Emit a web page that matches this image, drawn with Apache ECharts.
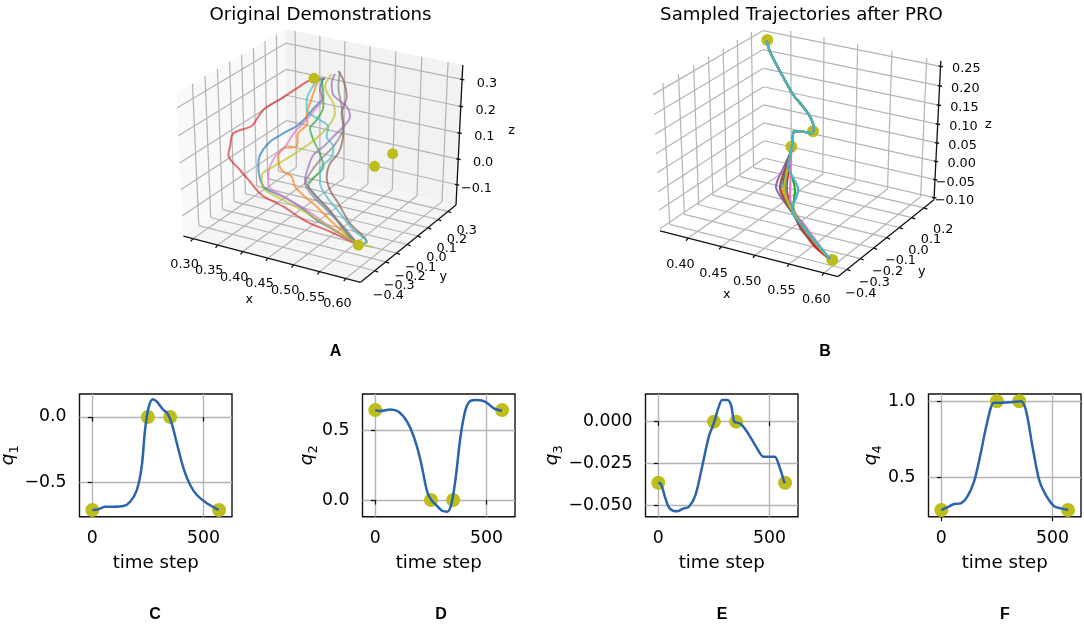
<!DOCTYPE html>
<html><head><meta charset="utf-8">
<style>html,body{margin:0;padding:0;background:#fff}#c{width:1084px;height:627px}</style>
<script src="https://cdn.jsdelivr.net/npm/echarts@6/dist/echarts.min.js"></script>
</head><body><div id="c"></div>
<script>
// ---------- data: joint-space plots ----------
const waypointSteps = [0, 250, 350, 570];
const q1Waypoints = [-0.708, 0, 0, -0.708];
const q2Waypoints = [0.649, 0, 0, 0.649];
const q3Waypoints = [-0.0366, 0, 0, -0.0366];
const q4Waypoints = [0.282, 1, 1, 0.282];

const q1Steps = [0,27,57,95,140,170,200,222,237,252,272,290,320,338,357,380,410,440,470,515,568];
const q1Values = [-.708,-.703,-.683,-.683,-.678,-.645,-.556,-.378,-.099,.066,.135,.117,.053,.028,-.048,-.2,-.391,-.518,-.594,-.657,-.708];
const q2Steps = [0,23,68,105,143,173,203,233,252,278,300,323,341,360,383,405,428,458,495,533,570];
const q2Values = [.649,.642,.654,.637,.565,.457,.288,.06,0,-.043,-.077,-.084,-.036,.144,.457,.649,.716,.721,.709,.661,.644];
const q3Steps = [0,12,32,51,84,114,137,167,197,227,249,272,287,309,327,342,369,399,444,474,523,542,568];
const q3Values = [-.0366,-.0374,-.046,-.052,-.0538,-.052,-.0512,-.044,-.027,-.009,-.001,.009,.013,.013,.01,0,-.0012,-.006,-.016,-.021,-.021,-.026,-.037];
const q4Steps = [0,27,57,87,117,147,177,207,237,267,312,357,380,410,440,470,507,538,570];
const q4Values = [.282,.30,.322,.326,.37,.469,.656,.866,.991,.991,.993,1,.943,.70,.48,.381,.308,.293,.282];

const stepTicks = [0, 500];
const q1Ticks = [-0.5, 0];
const q2Ticks = [0, 0.5];
const q3Ticks = [-0.05, -0.025, 0];
const q4Ticks = [0.5, 1];

// ---------- data: 3D axis ranges and ticks ----------
const xLimA = [0.2806, 0.6278], yLimA = [-0.527, 0.382], zLimA = [-0.18, 0.353];
const xTicksA = [0.30,0.35,0.40,0.45,0.50,0.55,0.60];
const yTicksA = [-0.4,-0.3,-0.2,-0.1,0,0.1,0.2,0.3];
const zTicksA = [-0.1,0,0.1,0.2,0.3];
const xLimB = [0.357, 0.620], yLimB = [-0.465, 0.283], zLimB = [-0.106, 0.264];
const xTicksB = [0.40,0.45,0.50,0.55,0.60];
const yTicksB = [-0.4,-0.3,-0.2,-0.1,0,0.1,0.2];
const zTicksB = [-0.10,-0.05,0,0.05,0.10,0.15,0.20,0.25];

// ---------- data: trajectories as read on the projected view plane (view units) ----------
const demoBlue = [[520,235],[510,270],[518,295],[495,320],[470,350],[445,375],[400,400],[360,425],[330,465],[325,500],[330,535],[345,565],[400,590],[450,620],[500,660],[560,695],[625,735]];
const demoOrange = [[505,240],[490,280],[480,310],[470,345],[472,370],[445,400],[440,440],[400,445],[385,470],[395,510],[425,530],[435,560],[465,590],[500,620],[550,670],[625,735]];
const demoGreen = [[515,240],[520,290],[520,320],[500,360],[480,385],[490,420],[510,460],[520,500],[495,530],[475,555],[500,590],[545,640],[590,700],[625,735]];
const demoRed = [[525,237],[490,238],[440,265],[395,295],[345,325],[325,350],[305,378],[250,400],[240,440],[235,465],[270,510],[300,545],[335,585],[400,620],[470,665],[540,695],[625,735]];
const demoPurple = [[555,222],[545,250],[550,285],[590,320],[600,350],[585,375],[550,410],[520,440],[490,465],[475,500],[465,540],[490,580],[530,620],[570,670],[625,735]];
const demoBrown = [[565,213],[580,240],[590,290],[575,340],[580,380],[578,420],[565,460],[540,490],[530,530],[540,570],[565,610],[600,670],[650,725],[625,735]];
const demoPink = [[510,260],[515,300],[490,335],[460,370],[435,395],[405,440],[375,470],[355,520],[355,555],[400,590],[470,630],[540,680],[625,735]];
const demoGray = [[570,215],[565,260],[575,320],[580,380],[575,400],[550,440],[510,480],[480,520],[465,550],[490,590],[530,630],[580,680],[625,735]];
const demoOlive = [[545,222],[525,260],[550,310],[555,340],[530,385],[480,430],[420,470],[370,500],[335,525],[340,565],[400,600],[480,645],[560,695],[625,730],[670,742]];
const demoCyan = [[525,232],[495,250],[470,305],[470,330],[510,360],[535,380],[530,410],[550,440],[545,470],[510,510],[510,550],[530,590],[570,640],[610,690],[650,725],[625,735]];
const demoWaypoints = [[492,235],[728,461],[674,499],[625,735]];

const proShared = [[410,122],[420,155],[445,205],[470,250],[490,285],[515,315],[540,350],[552,385],[545,400],[520,395],[492,393],[488,420],[484,450]];
const proBlue = [[474,500],[460,550],[470,595],[490,635],[520,685],[560,735],[600,778]];
const proOrange = [[470,500],[452,550],[462,590],[488,635],[518,685],[560,735],[600,778]];
const proGreen = [[480,500],[495,570],[490,620],[500,650],[535,700],[600,778]];
const proRed = [[478,500],[470,560],[482,620],[505,670],[550,735],[600,778]];
const proPurple = [[462,500],[438,560],[470,615],[495,650],[515,690],[555,730],[600,775]];
const proBrown = [[468,500],[450,565],[472,615],[495,650],[515,690],[555,732],[600,776]];
const proPink = [[482,520],[480,590],[495,640],[520,670],[545,705],[600,778]];
const proGray = [[474,500],[468,545],[472,595],[492,635],[525,685],[565,740],[600,778]];
const proOlive = [[472,510],[462,565],[475,610],[495,645],[530,695],[570,745],[600,778]];
const proCyan = [[475,500],[505,570],[485,630],[520,680],[590,765],[600,778]];
const proWaypoints = [[412,120],[549,394],[484,440],[607,780]];

// ---------- styling ----------
const tab10 = ['#1f77b4','#ff7f0e','#2ca02c','#d62728','#9467bd','#8c564b','#e377c2','#7f7f7f','#bcbd22','#3fb6c9'];
const FONT = '"DejaVu Sans"';
const dotColor = '#bdbd1c', curveColor = '#2b63ad', gridColor = '#b4b4b4';
const fmtMinus = s => s.replace('-', '\u2212');

// mplot3d style camera (elev 30, azim -60, dist 10)
function makeProjector(xl, yl, zl, sx, sy, ox, oy) {
  const U=[.8660254,.5,0], V=[-.25,.4330127,.8660254], N=[.4330127,-.75,.5];
  const dot=(a,b)=>a[0]*b[0]+a[1]*b[1]+a[2]*b[2];
  return (x,y,z)=>{
    const q=[(x-xl[0])/(xl[1]-xl[0])-.5,(y-yl[0])/(yl[1]-yl[0])-.5,(z-zl[0])/(zl[1]-zl[0])-.5];
    const f=10/(10-dot(N,q));
    return [ox+sx*dot(U,q)*f, oy-sy*dot(V,q)*f];
  };
}

function panel3D(idx, cfg) {
  const P = cfg.project, [x0,x1]=cfg.xl, [y0,y1]=cfg.yl, [z0,z1]=cfg.zl;
  const series = [];
  const base = {xAxisIndex:idx, yAxisIndex:idx, silent:true, animation:false};
  if (cfg.panes) {
    const polys = [
      [[x0,y0,z0],[x0,y1,z0],[x0,y1,z1],[x0,y0,z1]],
      [[x0,y1,z0],[x1,y1,z0],[x1,y1,z1],[x0,y1,z1]],
      [[x0,y0,z0],[x1,y0,z0],[x1,y1,z0],[x0,y1,z0]]
    ].map(p=>p.map(c=>P(...c)).flat());
    series.push({...base, type:'custom', z:1, data:polys, encode:{x:[0,2,4,6],y:[1,3,5,7]},
      renderItem:(pr,api)=>({type:'polygon',shape:{points:[0,2,4,6].map(i=>api.coord([api.value(i),api.value(i+1)]))},
        style:{fill:cfg.panes[pr.dataIndex]}})});
  }
  const seg=(a,b)=>[...P(...a),...P(...b)];
  const grid=[];
  cfg.xt.forEach(x=>{grid.push(seg([x,y0,z0],[x,y1,z0]),seg([x,y1,z0],[x,y1,z1]));});
  cfg.yt.forEach(y=>{grid.push(seg([x0,y,z0],[x1,y,z0]),seg([x0,y,z0],[x0,y,z1]));});
  cfg.zt.forEach(z=>{grid.push(seg([x0,y0,z],[x0,y1,z]),seg([x0,y1,z],[x1,y1,z]));});
  const lineSeries=(data,color,width,z)=>({...base,type:'custom',z,data,encode:{x:[0,2],y:[1,3]},
    renderItem:(pr,api)=>{const a=api.coord([api.value(0),api.value(1)]),b=api.coord([api.value(2),api.value(3)]);
      return {type:'line',shape:{x1:a[0],y1:a[1],x2:b[0],y2:b[1]},style:{stroke:color,lineWidth:width}};}});
  series.push(lineSeries(grid,gridColor,1.2,2));
  const axes=[seg([x0,y0,z0],[x1,y0,z0]),seg([x1,y0,z0],[x1,y1,z0]),seg([x1,y1,z0],[x1,y1,z1])];
  const tk=[];
  cfg.xt.forEach(x=>{const p=P(x,y0,z0);tk.push([p[0],p[1],p[0]-6,p[1]+8]);});
  cfg.yt.forEach(y=>{const p=P(x1,y,z0);tk.push([p[0],p[1],p[0]+10,p[1]+4]);});
  cfg.zt.forEach(z=>{const p=P(x1,y1,z);tk.push([p[0]-6,p[1]-1,p[0]+7,p[1]+1]);});
  series.push(lineSeries(axes.concat(tk),'#111',1.3,3));
  // tick and axis labels
  const texts=[];
  cfg.xt.forEach(x=>{const p=P(x,y0,z0);texts.push([p[0]+cfg.xOff[0],p[1]+cfg.xOff[1],x.toFixed(2),'center']);});
  cfg.yt.forEach((y,i)=>{const p=P(x1,y,z0);const t=i/(cfg.yt.length-1);
    texts.push([p[0]+cfg.yOff[0],p[1]+cfg.yOff[1]+t*cfg.yOff[2],fmtMinus(y.toFixed(1)),'right']);});
  cfg.zt.forEach(z=>{const p=P(x1,y1,z);texts.push([p[0]+cfg.zOff[0],p[1]+cfg.zOff[1],fmtMinus(z.toFixed(cfg.zDec)),'right']);});
  cfg.names.forEach(n=>texts.push([n[1],n[2],n[0],'center']));
  series.push({...base,type:'custom',z:4,data:texts.map(t=>[t[0],t[1]]),encode:{x:0,y:1},
    renderItem:(pr,api)=>{const a=api.coord([api.value(0),api.value(1)]),t=texts[pr.dataIndex];
      return {type:'text',x:a[0],y:a[1],style:{text:t[2],fontFamily:FONT,fontSize:12.8,fill:'#000',align:t[3],verticalAlign:'middle'}};}});
  // trajectories
  cfg.paths.forEach((d,i)=>series.push({...base,type:'line',z:cfg.pathZ,data:d,smooth:.3,showSymbol:false,
    lineStyle:{color:tab10[i],width:cfg.lw,opacity:cfg.op},clip:false}));
  series.push({...base,type:'scatter',z:cfg.dotZ,data:cfg.dots,symbolSize:cfg.dotSize,itemStyle:{color:dotColor,opacity:1},clip:false});
  return series;
}

const projA = makeProjector(xLimA,yLimA,zLimA,613.6,489.9,515.4,454);
const projB = makeProjector(xLimB,yLimB,zLimB,616.6,486.1,507.4,440);

const series = [
 ...panel3D(0,{project:projA,xl:xLimA,yl:yLimA,zl:zLimA,xt:xTicksA,yt:yTicksA,zt:zTicksA,zDec:1,
   panes:['#f9f9f9','#f2f2f2','#f5f5f5'],
   xOff:[-25,77],yOff:[87,75,-16],zOff:[105,12],
   names:[['x',298,900],['y',880,830],['z',1085,393]],
   paths:[demoBlue,demoOrange,demoGreen,demoRed,demoPurple,demoBrown,demoPink,demoGray,demoOlive,demoCyan],
   lw:2,op:.66,pathZ:5,dotZ:6,dots:demoWaypoints,dotSize:11}),
 ...panel3D(1,{project:projB,xl:xLimB,yl:yLimB,zl:zLimB,xt:xTicksB,yt:yTicksB,zt:zTicksB,zDec:2,
   xOff:[-23,80],yOff:[88,72,-6],zOff:[120,8],
   names:[['x',290,885],['y',875,815],['z',1075,375]],
   paths:[proBlue,proOrange,proGreen,proRed,proPurple,proBrown,proPink,proGray,proOlive,proCyan].map(t=>proShared.concat(t)),
   lw:2.1,op:1,pathZ:6,dotZ:5,dots:proWaypoints,dotSize:12})
];

// ---------- 2D joint plots ----------
const joints = [
 {steps:q1Steps,vals:q1Values,way:q1Waypoints,ticks:q1Ticks,lim:[-.759,.175],dec:1,sub:'1',left:79.5,nameGap:58},
 {steps:q2Steps,vals:q2Values,way:q2Waypoints,ticks:q2Ticks,lim:[-.12,.765],dec:1,sub:'2',left:362.5,nameGap:42},
 {steps:q3Steps,vals:q3Values,way:q3Waypoints,ticks:q3Ticks,lim:[-.057,.0166],dec:3,sub:'3',left:645.5,nameGap:80},
 {steps:q4Steps,vals:q4Values,way:q4Waypoints,ticks:q4Ticks,lim:[.238,1.048],dec:1,sub:'4',left:928.5,nameGap:44}
];
const grids=[{left:150,top:0,width:350,height:330,outerBoundsMode:'none'},{left:630,top:0,width:350,height:330,outerBoundsMode:'none'}];
const xAxes=[{type:'value',min:0,max:1050,show:false,gridIndex:0},{type:'value',min:0,max:1050,show:false,gridIndex:1}];
const yAxes=[{type:'value',min:0,max:990,inverse:true,show:false,gridIndex:0},{type:'value',min:0,max:990,inverse:true,show:false,gridIndex:1}];
joints.forEach((j,k)=>{
  const g=k+2;
  grids.push({left:j.left,top:394,width:152.5,height:122.7,outerBoundsMode:'none',show:true,borderColor:'#111',borderWidth:1.4,backgroundColor:'transparent'});
  xAxes.push({type:'value',gridIndex:g,min:-57.6,max:628,name:'time step',nameLocation:'middle',nameGap:38,nameMoveOverlap:false,
    nameTextStyle:{fontFamily:FONT,fontSize:18.2,color:'#000'},
    axisLine:{show:false},axisTick:{length:4.5,customValues:stepTicks,lineStyle:{color:'#111',width:1.2}},
    axisLabel:{customValues:stepTicks,fontFamily:FONT,fontSize:17.3,color:'#000',margin:13,hideOverlap:false,showMinLabel:true,showMaxLabel:true},
    splitLine:{show:true,lineStyle:{color:gridColor,width:1.4}}});
  yAxes.push({type:'value',gridIndex:g,min:j.lim[0],max:j.lim[1],name:'{q|q}{s|'+j.sub+'}',nameLocation:'middle',nameGap:j.nameGap,nameRotate:90,nameMoveOverlap:false,
    nameTextStyle:{fontFamily:FONT,color:'#000',rich:{
      q:{fontFamily:FONT,fontStyle:'italic',fontSize:18.5,color:'#000'},
      s:{fontFamily:FONT,fontSize:13,color:'#000',verticalAlign:'bottom',lineHeight:26}}},
    axisLine:{show:false},axisTick:{length:4.5,customValues:j.ticks,lineStyle:{color:'#111',width:1.2}},
    axisLabel:{customValues:j.ticks,fontFamily:FONT,fontSize:17.3,color:'#000',margin:13,padding:[4,0,0,0],
      formatter:v=>fmtMinus((+v).toFixed(j.dec))},
    splitLine:{show:true,lineStyle:{color:gridColor,width:1.4}}});
  series.push({type:'scatter',xAxisIndex:g,yAxisIndex:g,z:3,silent:true,animation:false,symbolSize:14,clip:false,
    itemStyle:{color:dotColor,opacity:1},data:waypointSteps.map((t,i)=>[t,j.way[i]])});
  series.push({type:'line',xAxisIndex:g,yAxisIndex:g,z:4,silent:true,animation:false,smooth:.3,showSymbol:false,
    lineStyle:{color:curveColor,width:2.5},data:j.steps.map((t,i)=>[t,j.vals[i]])});
});

const mk=(text,x,y,size,weight,fam)=>({text,left:x,top:y,padding:0,textAlign:'center',textStyle:{fontFamily:fam,fontSize:size,fontWeight:weight,color:'#000'}});
const LET='"Liberation Sans"';
const titles=[mk('Original Demonstrations',320.5,6,18.2,'normal',FONT),mk('Sampled Trajectories after PRO',801.5,6,18.2,'normal',FONT),
 mk('A',335.5,344,16,'bold',LET),mk('B',825,344,16,'bold',LET),mk('C',155,607,16,'bold',LET),mk('D',441,607,16,'bold',LET),mk('E',722,607,16,'bold',LET),mk('F',1005,607,16,'bold',LET)];

const chart=echarts.init(document.getElementById('c'));
chart.setOption({animation:false,backgroundColor:'#fff',title:titles,grid:grids,xAxis:xAxes,yAxis:yAxes,series});
</script></body></html>
